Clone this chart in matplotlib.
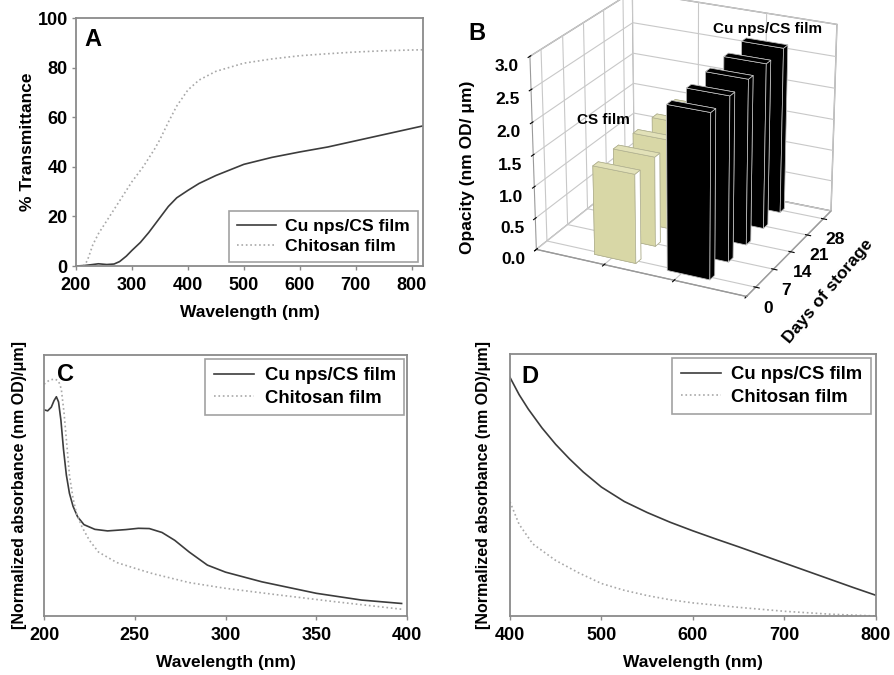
import numpy as np
import matplotlib
matplotlib.use("Agg")
import matplotlib.pyplot as plt
from mpl_toolkits.mplot3d import Axes3D  # noqa

plt.rcParams['font.family'] = ['Liberation Sans', 'DejaVu Sans']
plt.rcParams['font.weight'] = 'bold'
plt.rcParams['axes.labelweight'] = 'bold'

# ---------------- data ----------------
# Panel A: % transmittance
a_wl_cu = [200, 215, 230, 240, 255, 268, 278, 290, 300, 315, 330, 350, 365, 380, 400, 420, 450,
           500, 550, 600, 650, 700, 750, 800, 820]
a_t_cu = [0.0, 0.2, 0.6, 0.9, 0.6, 0.8, 1.8, 4.0, 6.3, 9.5, 13.5, 19.5, 24.0, 27.5, 30.5, 33.3, 36.5,
          41.0, 43.8, 46.0, 48.0, 50.5, 53.0, 55.5, 56.5]
a_wl_cs = [213, 220, 230, 240, 260, 280, 300, 320, 340, 350, 365, 380, 400, 420, 450,
           500, 550, 600, 650, 700, 750, 800, 820]
a_t_cs = [0.0, 2.0, 8.5, 13.0, 20.0, 27.0, 34.0, 40.0, 47.0, 51.0, 58.0, 64.5, 71.0, 75.0, 78.5,
          81.8, 83.5, 84.8, 85.6, 86.3, 86.8, 87.1, 87.2]

# Panel B: opacity vs days of storage
b_days = [0, 7, 14, 21, 28]
b_opacity_cs = [1.40, 1.42, 1.43, 1.45, 1.46]
b_opacity_cu = [2.55, 2.57, 2.60, 2.62, 2.65]

# Panel C: normalized absorbance 200-400 nm (arbitrary units)
c_wl_cu = [200, 202, 204, 205.5, 206.8, 208, 209.3, 210.7, 212.3, 214, 216, 218.5, 222, 228, 235,
           245, 252, 258, 265, 272, 280, 290, 300, 320, 350, 375, 397]
c_a_cu = [0.790, 0.786, 0.800, 0.825, 0.840, 0.820, 0.750, 0.640, 0.540, 0.470, 0.420, 0.380, 0.350,
          0.332, 0.326, 0.331, 0.336, 0.335, 0.320, 0.290, 0.245, 0.195, 0.168, 0.131, 0.087, 0.061,
          0.048]
c_wl_cs = [200, 203, 206, 208, 209.5, 211, 212.5, 214, 216, 218, 221, 225, 230, 240, 250, 260, 280,
           300, 330, 360, 397]
c_a_cs = [0.888, 0.904, 0.908, 0.900, 0.870, 0.780, 0.660, 0.540, 0.450, 0.390, 0.340, 0.290, 0.245,
          0.205, 0.183, 0.162, 0.128, 0.106, 0.080, 0.055, 0.026]

# Panel D: normalized absorbance 400-800 nm (arbitrary units)
d_wl_cu = [400, 410, 420, 435, 450, 465, 480, 500, 525, 550, 575, 600, 625, 650, 675, 700, 725, 750,
           775, 800]
d_a_cu = [0.911, 0.845, 0.790, 0.718, 0.655, 0.600, 0.550, 0.492, 0.437, 0.395, 0.358, 0.325, 0.294,
          0.264, 0.233, 0.202, 0.171, 0.140, 0.109, 0.079]
d_wl_cs = [400, 410, 425, 450, 475, 500, 525, 550, 575, 600, 650, 700, 750, 800]
d_a_cs = [0.436, 0.350, 0.275, 0.212, 0.165, 0.124, 0.098, 0.078, 0.062, 0.050, 0.033, 0.018, 0.007,
          0.0]

labels = ['Cu nps/CS film', 'Chitosan film']

# ---------------- styling ----------------
CU_COLOR = '#3c3c3c'
CS_COLOR = '#a8a8a8'
SPINE = '#8a8a8a'
TICK_FS = 13
LAB_FS = 12.5
LEG_FS = 13.3

fig = plt.figure(figsize=(8.95, 6.75), dpi=100)


def style2d(ax):
    for s in ax.spines.values():
        s.set_color(SPINE)
        s.set_linewidth(1.3)
    ax.tick_params(direction='out', color=SPINE, width=1.0, length=3, pad=3,
                   labelsize=TICK_FS)
    ax.tick_params(axis='x', pad=5)
    for t in ax.get_xticklabels() + ax.get_yticklabels():
        t.set_fontweight('bold')


def add_legend(ax, loc, bbox, size=LEG_FS):
    leg = ax.legend(labels, loc=loc, bbox_to_anchor=bbox, frameon=True,
                    fancybox=False, edgecolor=SPINE,
                    prop={'weight': 'bold', 'size': size}, handlelength=2.2,
                    borderpad=0.45, labelspacing=0.3, handletextpad=0.55,
                    borderaxespad=0.0)
    leg.get_frame().set_linewidth(1.2)
    return leg


# ---- Panel A ----
axA = fig.add_axes([0.0849, 0.6059, 0.3877, 0.3674])
axA.plot(a_wl_cu, a_t_cu, '-', color=CU_COLOR, lw=1.2)
axA.plot(a_wl_cs, a_t_cs, ':', color=CS_COLOR, lw=1.2)
axA.set_xlim(200, 820)
axA.set_ylim(0, 100)
axA.set_xticks([200, 300, 400, 500, 600, 700, 800])
axA.set_yticks([0, 20, 40, 60, 80, 100])
axA.set_xlabel('Wavelength (nm)', fontsize=LAB_FS, fontweight='bold', labelpad=8)
axA.set_ylabel('% Transmittance', fontsize=LAB_FS, fontweight='bold', labelpad=2)
style2d(axA)
axA.text(0.025, 0.96, 'A', transform=axA.transAxes, fontsize=17, fontweight='bold',
         va='top', ha='left')
add_legend(axA, 'lower right', (0.9856, 0.016), size=12.6)

# ---- Panel C ----
axC = fig.add_axes([0.0492, 0.0874, 0.4056, 0.3867])
axC.plot(c_wl_cu, c_a_cu, '-', color=CU_COLOR, lw=1.2)
axC.plot(c_wl_cs, c_a_cs, ':', color=CS_COLOR, lw=1.2)
axC.set_xlim(200, 400)
axC.set_ylim(0, 1)
axC.set_xticks([200, 250, 300, 350, 400])
axC.set_yticks([])
axC.set_xlabel('Wavelength (nm)', fontsize=LAB_FS, fontweight='bold', labelpad=8)
axC.set_ylabel('[Normalized absorbance (nm OD)/\u03bcm]', fontsize=11.5, fontweight='bold',
               labelpad=12)
style2d(axC)
axC.text(0.035, 0.97, 'C', transform=axC.transAxes, fontsize=17, fontweight='bold',
         va='top', ha='left')
add_legend(axC, 'upper right', (0.9917, 0.9847))

# ---- Panel D ----
axD = fig.add_axes([0.5698, 0.0874, 0.4089, 0.3881])
axD.plot(d_wl_cu, d_a_cu, '-', color=CU_COLOR, lw=1.2)
axD.plot(d_wl_cs, d_a_cs, ':', color=CS_COLOR, lw=1.2)
axD.set_xlim(400, 800)
axD.set_ylim(0, 1)
axD.set_xticks([400, 500, 600, 700, 800])
axD.set_yticks([])
axD.set_xlabel('Wavelength (nm)', fontsize=LAB_FS, fontweight='bold', labelpad=8)
axD.set_ylabel('[Normalized absorbance (nm OD)/\u03bcm]', fontsize=11.5, fontweight='bold',
               labelpad=14)
style2d(axD)
axD.text(0.03, 0.96, 'D', transform=axD.transAxes, fontsize=17, fontweight='bold',
         va='top', ha='left')
add_legend(axD, 'upper right', (0.9863, 0.9847))

# ---- Panel B (3D bars) ----
axB = fig.add_axes([0.481, 0.52, 0.5616, 0.54], projection='3d')
axB.view_init(elev=23, azim=-64)
axB.set_box_aspect((1.32, 1.22, 1.18))
dx, dy = 0.6, 1.8
CS_BAR = '#d8d7a6'
CS_SIDE = '#ffffff'
for d, v in zip(b_days[::-1], b_opacity_cs[::-1]):
    # face order: bottom, top, front(-y), back(+y), left(-x), right(+x)
    axB.bar3d(0.75, d - dy / 2, 0, dx, dy, v,
              color=[CS_BAR, '#e2e1b8', CS_BAR, CS_BAR, CS_BAR, CS_SIDE],
              edgecolor='#b0b090', linewidth=0.5, shade=False)
for d, v in zip(b_days[::-1], b_opacity_cu[::-1]):
    axB.bar3d(1.8, d - dy / 2, 0, dx, dy, v, color='black', edgecolor='#cfcfcf',
              linewidth=0.5, shade=False)
axB.set_xlim(0, 3)
axB.set_ylim(-3.5, 31.5)
axB.set_zlim(0, 3)
axB.set_xticks([0, 1, 2, 3])
axB.set_xticklabels([])
axB.set_yticks(b_days)
axB.set_zticks([0, 0.5, 1.0, 1.5, 2.0, 2.5, 3.0])
axB.set_zticklabels(['0.0', '0.5', '1.0', '1.5', '2.0', '2.5', '3.0'])
axB.zaxis.set_ticks_position('lower')
axB.tick_params(axis='z', labelsize=12.5, pad=2)
axB.tick_params(axis='y', labelsize=12.5, pad=0)
for t in axB.get_zticklabels() + axB.get_yticklabels():
    t.set_fontweight('bold')
for axis in (axB.xaxis, axB.yaxis, axB.zaxis):
    axis.set_pane_color((1, 1, 1, 1))
    axis.pane.set_edgecolor('#9a9a9a')
    axis._axinfo['grid']['color'] = '#c8c8c8'
    axis._axinfo['grid']['linewidth'] = 0.8
    axis.line.set_color('#9a9a9a')
fig.text(468 / 895, 1 - 167 / 675, 'Opacity (nm OD/ \u03bcm)', fontsize=12.5,
         fontweight='bold', rotation=90, ha='center', va='center')
fig.text(828 / 895, 1 - 291 / 675, 'Days of storage', fontsize=12.5,
         fontweight='bold', rotation=50, ha='center', va='center')
fig.text(468 / 895, 1 - 34 / 675, 'B', fontsize=17, fontweight='bold', va='center')
fig.text(577 / 895, 1 - 120 / 675, 'CS film', fontsize=11, fontweight='bold', va='center')
fig.text(713 / 895, 1 - 29 / 675, 'Cu nps/CS film', fontsize=11, fontweight='bold',
         va='center')

fig.savefig('out.png', dpi=100)
